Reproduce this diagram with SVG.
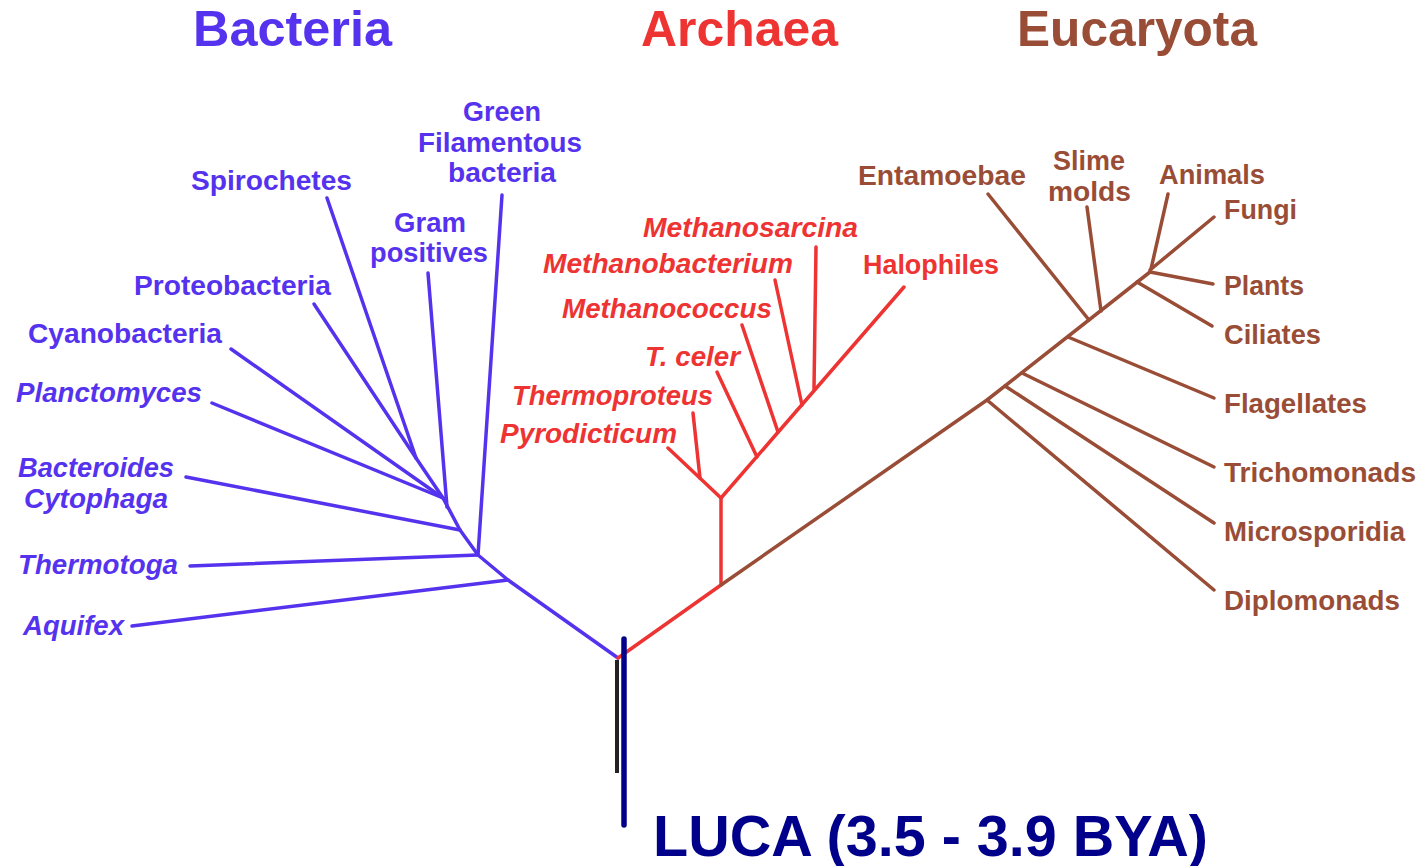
<svg xmlns="http://www.w3.org/2000/svg" width="1423" height="866" viewBox="0 0 1423 866">
<style>
text{font-family:"Liberation Sans",Arial,sans-serif;font-weight:bold;}
.title{font-size:50px;}
.lbl{font-size:27px;}
.it{font-style:italic;}
.b{fill:#5533ee;}
.a{fill:#ee3333;}
.e{fill:#9a4d36;}
.lb{stroke:#5533ee;stroke-width:3.5;fill:none;stroke-linecap:round;stroke-linejoin:round;}
.la{stroke:#ee3333;stroke-width:3.5;fill:none;stroke-linecap:round;stroke-linejoin:round;}
.le{stroke:#9a4d36;stroke-width:3.5;fill:none;stroke-linecap:round;stroke-linejoin:round;}
</style>
<rect width="1423" height="866" fill="#ffffff"/>
<g id="titles">
<text class="title b" x="193" y="46" textLength="199" lengthAdjust="spacingAndGlyphs">Bacteria</text>
<text class="title a" x="641" y="46" textLength="197" lengthAdjust="spacingAndGlyphs">Archaea</text>
<text class="title e" x="1017" y="46" textLength="240" lengthAdjust="spacingAndGlyphs">Eucaryota</text>
</g>
<g id="connectors">
<line x1="617" y1="660" x2="617" y2="773" stroke="#222222" stroke-width="4"/>
<!-- bacteria -->
<polyline class="lb" points="618,658 508,580 478,555 460,530 443,498 416,458"/>
<line class="lb" x1="132" y1="626" x2="508" y2="580"/>
<line class="lb" x1="190" y1="566" x2="478" y2="555"/>
<line class="lb" x1="502" y1="195" x2="478" y2="555"/>
<line class="lb" x1="186" y1="477" x2="460" y2="530"/>
<line class="lb" x1="428" y1="273" x2="447" y2="507"/>
<line class="lb" x1="212" y1="403" x2="443" y2="498"/>
<line class="lb" x1="231" y1="349" x2="443" y2="498"/>
<line class="lb" x1="327" y1="198" x2="416" y2="458"/>
<line class="lb" x1="314" y1="304" x2="416" y2="458"/>
<!-- archaea -->
<polyline class="la" points="618,658 721,585 721,498"/>
<polyline class="la" points="668,448 721,498 904,287"/>
<line class="la" x1="693" y1="413" x2="700" y2="478"/>
<line class="la" x1="717" y1="372" x2="757" y2="457"/>
<line class="la" x1="742" y1="325" x2="778" y2="432"/>
<line class="la" x1="775" y1="280" x2="802" y2="405"/>
<line class="la" x1="816" y1="247" x2="814" y2="389"/>
<!-- eukaryota -->
<polyline class="le" points="721,585 987,400 1150,272"/>
<line class="le" x1="987" y1="400" x2="1214" y2="590"/>
<line class="le" x1="1005" y1="386" x2="1214" y2="523"/>
<line class="le" x1="1022" y1="373" x2="1214" y2="467"/>
<line class="le" x1="1068" y1="337" x2="1214" y2="398"/>
<line class="le" x1="1137" y1="282" x2="1212" y2="326"/>
<line class="le" x1="1150" y1="272" x2="1213" y2="284"/>
<line class="le" x1="1150" y1="270" x2="1214" y2="217"/>
<line class="le" x1="1151" y1="269" x2="1168" y2="194"/>
<line class="le" x1="1101" y1="311" x2="1087" y2="207"/>
<line class="le" x1="1089" y1="320" x2="988" y2="194"/>
<line x1="624" y1="639" x2="624" y2="825" stroke="#00008b" stroke-width="5.5" stroke-linecap="round"/>
</g>
<g id="bacteria-labels">
<g id="n-green"><text class="lbl b" x="463" y="121" textLength="78" lengthAdjust="spacingAndGlyphs">Green</text>
<text class="lbl b" x="418" y="152" textLength="164" lengthAdjust="spacingAndGlyphs">Filamentous</text>
<text class="lbl b" x="448" y="182" textLength="108" lengthAdjust="spacingAndGlyphs">bacteria</text></g>
<g id="n-spiro"><text class="lbl b" x="191" y="190" textLength="161" lengthAdjust="spacingAndGlyphs">Spirochetes</text></g>
<g id="n-gram"><text class="lbl b" x="394" y="232" textLength="72" lengthAdjust="spacingAndGlyphs">Gram</text>
<text class="lbl b" x="370" y="262" textLength="118" lengthAdjust="spacingAndGlyphs">positives</text></g>
<g id="n-proteo"><text class="lbl b" x="134" y="295" textLength="197" lengthAdjust="spacingAndGlyphs">Proteobacteria</text></g>
<g id="n-cyano"><text class="lbl b" x="28" y="343" textLength="194" lengthAdjust="spacingAndGlyphs">Cyanobacteria</text></g>
<g id="n-plancto"><text class="lbl b it" x="16" y="402" textLength="186" lengthAdjust="spacingAndGlyphs">Planctomyces</text></g>
<g id="n-bactero"><text class="lbl b it" x="18" y="477" textLength="156" lengthAdjust="spacingAndGlyphs">Bacteroides</text>
<text class="lbl b it" x="24" y="508" textLength="144" lengthAdjust="spacingAndGlyphs">Cytophaga</text></g>
<g id="n-thermotoga"><text class="lbl b it" x="18" y="574" textLength="160" lengthAdjust="spacingAndGlyphs">Thermotoga</text></g>
<g id="n-aquifex"><text class="lbl b it" x="23" y="635" textLength="101" lengthAdjust="spacingAndGlyphs">Aquifex</text></g>
</g>
<g id="archaea-labels">
<g id="n-msarcina"><text class="lbl a it" x="643" y="237" textLength="215" lengthAdjust="spacingAndGlyphs">Methanosarcina</text></g>
<g id="n-mbact"><text class="lbl a it" x="543" y="273" textLength="250" lengthAdjust="spacingAndGlyphs">Methanobacterium</text></g>
<g id="n-mcoccus"><text class="lbl a it" x="562" y="318" textLength="210" lengthAdjust="spacingAndGlyphs">Methanococcus</text></g>
<g id="n-tceler"><text class="lbl a it" x="645" y="366" textLength="95" lengthAdjust="spacingAndGlyphs">T. celer</text></g>
<g id="n-thermoprot"><text class="lbl a it" x="512" y="405" textLength="201" lengthAdjust="spacingAndGlyphs">Thermoproteus</text></g>
<g id="n-pyro"><text class="lbl a it" x="500" y="443" textLength="177" lengthAdjust="spacingAndGlyphs">Pyrodicticum</text></g>
<g id="n-halo"><text class="lbl a" x="863" y="274" textLength="136" lengthAdjust="spacingAndGlyphs">Halophiles</text></g>
</g>
<g id="eukaryota-labels">
<g id="n-entam"><text class="lbl e" x="858" y="185" textLength="168" lengthAdjust="spacingAndGlyphs">Entamoebae</text></g>
<g id="n-slime"><text class="lbl e" x="1053" y="170" textLength="72" lengthAdjust="spacingAndGlyphs">Slime</text>
<text class="lbl e" x="1048" y="201" textLength="83" lengthAdjust="spacingAndGlyphs">molds</text></g>
<g id="n-animals"><text class="lbl e" x="1159" y="184" textLength="106" lengthAdjust="spacingAndGlyphs">Animals</text></g>
<g id="n-fungi"><text class="lbl e" x="1224" y="219" textLength="73" lengthAdjust="spacingAndGlyphs">Fungi</text></g>
<g id="n-plants"><text class="lbl e" x="1224" y="295" textLength="80" lengthAdjust="spacingAndGlyphs">Plants</text></g>
<g id="n-ciliates"><text class="lbl e" x="1224" y="344" textLength="97" lengthAdjust="spacingAndGlyphs">Ciliates</text></g>
<g id="n-flag"><text class="lbl e" x="1224" y="413" textLength="143" lengthAdjust="spacingAndGlyphs">Flagellates</text></g>
<g id="n-tricho"><text class="lbl e" x="1224" y="482" textLength="192" lengthAdjust="spacingAndGlyphs">Trichomonads</text></g>
<g id="n-micro"><text class="lbl e" x="1224" y="541" textLength="181" lengthAdjust="spacingAndGlyphs">Microsporidia</text></g>
<g id="n-diplo"><text class="lbl e" x="1224" y="610" textLength="176" lengthAdjust="spacingAndGlyphs">Diplomonads</text></g>
</g>
<g id="n-luca"><text x="653" y="856" font-size="58" fill="#00008b" textLength="555" lengthAdjust="spacingAndGlyphs">LUCA (3.5 - 3.9 BYA)</text></g>
</svg>
